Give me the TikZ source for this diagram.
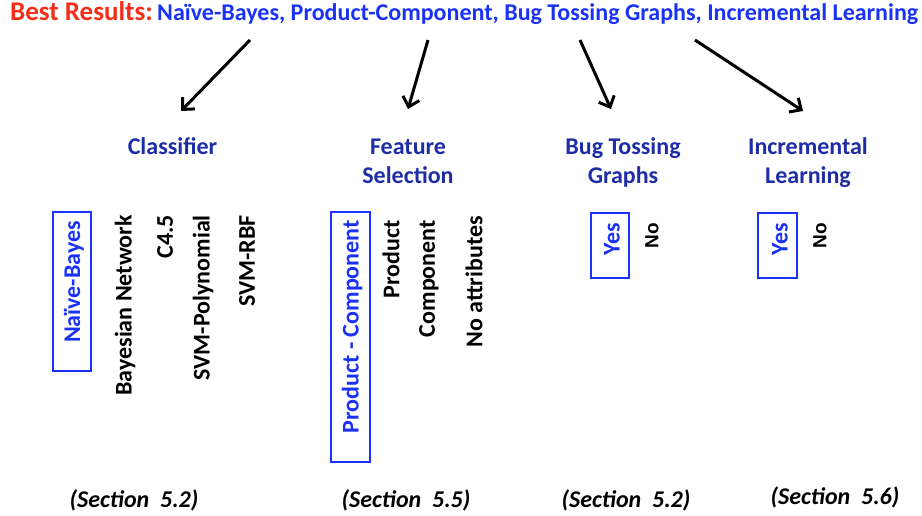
\documentclass[tikz,border=0pt]{standalone}
\usepackage{fontspec}
\setmainfont{Carlito}
\newfontfamily\arialfont{Liberation Sans}
\usetikzlibrary{arrows.meta}
\definecolor{tblue}{RGB}{25,50,245}
\definecolor{hblue}{RGB}{30,45,165}
\definecolor{tred}{RGB}{245,45,25}
\begin{document}
\begin{tikzpicture}[x=1pt,y=-1pt,
  head/.style={font=\fontsize{24}{29}\selectfont\bfseries, text=hblue, align=center, inner sep=0},
  opt/.style={font=\fontsize{24}{28}\selectfont\bfseries, rotate=90, anchor=east, inner sep=0},
  bestopt/.style={opt, text=tblue},
  noopt/.style={opt, font=\fontsize{19}{22}\selectfont\arialfont\bfseries},
  boxn/.style={draw=tblue, line width=1.3pt, inner sep=0},
  sect/.style={font=\fontsize{24}{28}\selectfont\bfseries\itshape, inner sep=0},
  arr/.style={line width=3pt, -{Straight Barb[length=9pt,width=17pt]}}]
\useasboundingbox (0,0) rectangle (922,516);

% title
\node[anchor=base west, inner sep=0, text=tred, font=\fontsize{27}{30}\selectfont\bfseries] (tbest) at (10,21)
  {Best Results:};
\node[anchor=base west, inner sep=0, text=tblue, font=\fontsize{24}{28}\selectfont\bfseries] (tlist) at (157,21)
  {\resizebox{761pt}{!}{Naïve-Bayes, Product-Component, Bug Tossing Graphs, Incremental Learning}};

% headings
\node[head, anchor=base] (hcls) at (172.5,155) {Classifier};
\node[head, anchor=base] (hfs) at (408,184) {Feature\\Selection};
\node[head, anchor=base] (hbt) at (623,184) {Bug Tossing\\Graphs};
\node[head, anchor=base] (hil) at (808,184) {Incremental\\Learning};

% arrows
\coordinate (a1s) at (250,40); \coordinate (a1e) at (181,111);
\coordinate (a2s) at (428,40); \coordinate (a2e) at (408,109);
\coordinate (a3s) at (580,40); \coordinate (a3e) at (611,109);
\coordinate (a4s) at (695,40); \coordinate (a4e) at (803,111);
\draw[arr] (a1s) -- (a1e);
\draw[arr] (a2s) -- (a2e);
\draw[arr] (a3s) -- (a3e);
\draw[arr] (a4s) -- (a4e);

% boxes
\node[boxn, minimum width=38pt, minimum height=159pt] (bnb) at (72,291.5) {};
\node[boxn, minimum width=39pt, minimum height=250pt] (bpc) at (350.5,337) {};
\node[boxn, minimum width=38pt, minimum height=65pt] (by1) at (610,245.5) {};
\node[boxn, minimum width=39pt, minimum height=65pt] (by2) at (777.5,245.5) {};

% classifier options
\node[bestopt] (onb) at (74,221) {Naïve-Bayes};
\node[opt] (obn) at (125,215) {Bayesian Network};
\node[opt] (oc45) at (165,215) {C4.5};
\node[opt] (osp) at (203,215) {SVM-Polynomial};
\node[opt] (osr) at (247,215) {SVM-RBF};

% feature selection options
\node[bestopt] (opc) at (352,220) {Product - Component};
\node[opt] (op) at (391,220) {Product};
\node[opt] (oco) at (429,220) {Component};
\node[opt] (ona) at (474,216) {No attributes};

% yes/no
\node[bestopt] (oy1) at (612,223) {Yes};
\node[noopt] (on1) at (652,223) {No};
\node[bestopt] (oy2) at (780,223) {Yes};
\node[noopt] (on2) at (820,223) {No};

% sections
\node[sect] (s1) at (134,500) {(Section\hspace{0.45em}5.2)};
\node[sect] (s2) at (406,500) {(Section\hspace{0.45em}5.5)};
\node[sect] (s3) at (626,500) {(Section\hspace{0.45em}5.2)};
\node[sect] (s4) at (835,497) {(Section\hspace{0.45em}5.6)};
\end{tikzpicture}
\end{document}
